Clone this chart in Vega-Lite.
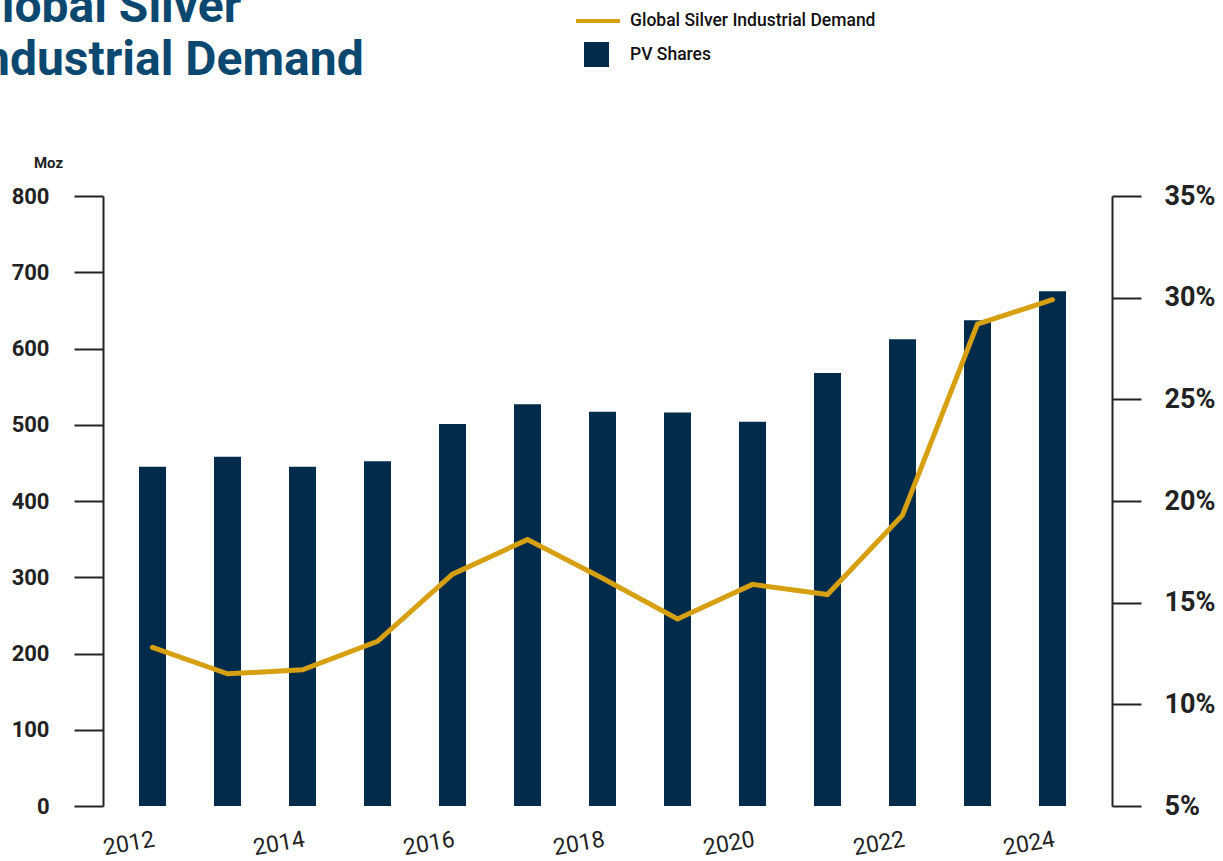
{
  "$schema": "https://vega.github.io/schema/vega-lite/v6.json",
  "width": 1009,
  "height": 610,
  "autosize": {"type": "none"},
  "padding": {"left": 103, "top": 196, "right": 111, "bottom": 55},
  "background": "white",
  "config": {"font": "Roboto", "view": {"stroke": null}},
  "title": {
    "text": ["Global Silver", "Industrial Demand"],
    "anchor": "start",
    "frame": "group",
    "fontSize": 48,
    "fontWeight": "bold",
    "color": "#0A4870",
    "font": "Roboto",
    "lineHeight": 53,
    "dx": -134,
    "dy": 88,
    "offset": 0
  },
  "data": {
    "values": [
      {"year": "2012", "moz": 445, "share": 12.8},
      {"year": "2013", "moz": 458, "share": 11.5},
      {"year": "2014", "moz": 445, "share": 11.7},
      {"year": "2015", "moz": 452, "share": 13.1},
      {"year": "2016", "moz": 501, "share": 16.4},
      {"year": "2017", "moz": 527, "share": 18.1},
      {"year": "2018", "moz": 517, "share": 16.2},
      {"year": "2019", "moz": 516, "share": 14.2},
      {"year": "2020", "moz": 504, "share": 15.9},
      {"year": "2021", "moz": 568, "share": 15.4},
      {"year": "2022", "moz": 612, "share": 19.3},
      {"year": "2023", "moz": 637, "share": 28.7},
      {"year": "2024", "moz": 675, "share": 29.9}
    ]
  },
  "encoding": {
    "x": {
      "field": "year",
      "type": "ordinal",
      "scale": {"paddingInner": 0.64, "paddingOuter": 0.5467, "align": 0.439},
      "axis": {
        "title": null,
        "values": ["2012", "2014", "2016", "2018", "2020", "2022", "2024"],
        "labelAngle": -10,
        "labelFontSize": 23,
        "labelColor": "#222222",
        "labelFont": "Roboto",
        "labelPadding": 22,
        "domain": false,
        "ticks": false,
        "grid": false
      }
    }
  },
  "layer": [
    {
      "mark": {"type": "bar"},
      "encoding": {
        "y": {
          "field": "moz",
          "type": "quantitative",
          "scale": {"domain": [0, 800], "nice": false},
          "axis": {
            "title": "Moz",
            "titleAngle": 0,
            "titleX": -55,
            "titleY": -34,
            "titleAlign": "center",
            "titleBaseline": "middle",
            "titleFontSize": 15,
            "titleFontWeight": "bold",
            "titleColor": "#222222",
            "values": [0, 100, 200, 300, 400, 500, 600, 700, 800],
            "labelFontSize": 22,
            "labelFontWeight": "bold",
            "labelColor": "#222222",
            "labelPadding": 25,
            "tickSize": 29,
            "tickWidth": 2,
            "tickColor": "#222222",
            "domainColor": "#222222",
            "domainWidth": 2,
            "grid": false
          }
        },
        "fill": {
          "datum": "PV Shares",
          "scale": {"range": ["#002B4A"]},
          "legend": {
            "title": null,
            "orient": "none",
            "legendX": 481,
            "legendY": -154,
            "padding": 0,
            "symbolType": "square",
            "symbolSize": 625,
            "symbolStrokeWidth": 0,
            "labelOffset": 21,
            "labelLimit": 400,
            "labelFontSize": 17.5,
            "labelFontWeight": 500,
            "labelColor": "#111111",
            "labelFont": "Roboto"
          }
        }
      }
    },
    {
      "mark": {"type": "line", "strokeWidth": 5, "strokeCap": "round"},
      "encoding": {
        "y": {
          "field": "share",
          "type": "quantitative",
          "scale": {"domain": [5, 35], "nice": false, "zero": false},
          "axis": {
            "orient": "right",
            "title": null,
            "values": [5, 10, 15, 20, 25, 30, 35],
            "labelExpr": "datum.value + '%'",
            "labelFontSize": 27,
            "labelFontWeight": "bold",
            "labelColor": "#222222",
            "labelPadding": 23,
            "tickSize": 29,
            "tickWidth": 2,
            "tickColor": "#222222",
            "domainColor": "#222222",
            "domainWidth": 2,
            "grid": false
          }
        },
        "stroke": {
          "datum": "Global Silver Industrial Demand",
          "scale": {"range": ["#D6A010"]},
          "legend": {
            "title": null,
            "orient": "none",
            "legendX": 471,
            "legendY": -199,
            "padding": 0,
            "symbolType": "stroke",
            "symbolSize": 1936,
            "symbolStrokeWidth": 4,
            "labelOffset": 8,
            "labelLimit": 400,
            "labelFontSize": 17.5,
            "labelFontWeight": 500,
            "labelColor": "#111111",
            "labelFont": "Roboto"
          }
        }
      }
    }
  ],
  "resolve": {"scale": {"y": "independent", "fill": "independent", "stroke": "independent"}}
}
